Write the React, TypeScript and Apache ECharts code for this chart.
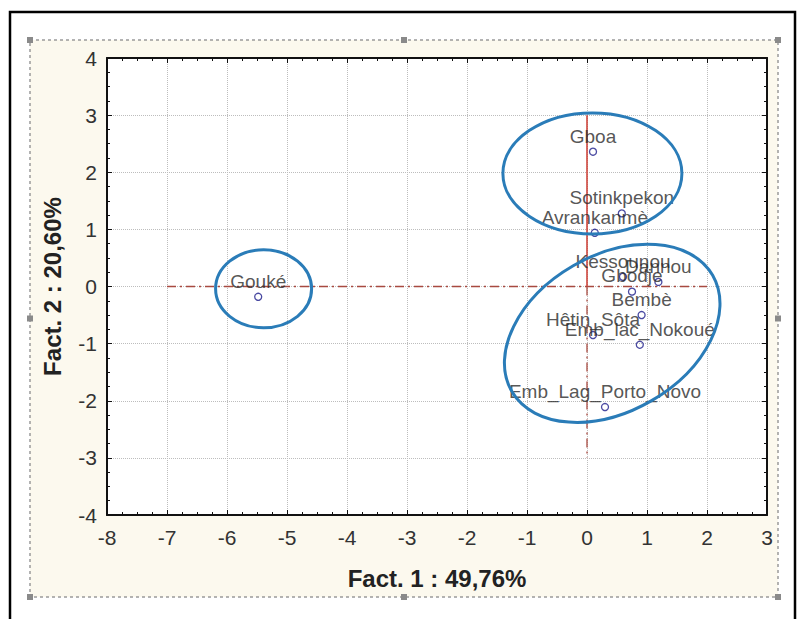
import React, { useEffect, useRef } from "react";
import * as echarts from "echarts";

// ---- data ----
const siteNames = [
  "Gouké",
  "Gboa",
  "Sotinkpekon",
  "Avrankanmè",
  "Kessounou",
  "Dannou",
  "Gbodje",
  "Bembè",
  "Hêtin_Sôta",
  "Emb_lac_Nokoué",
  "Emb_Lag_Porto_Novo",
];
const fact1 = [-5.48, 0.1, 0.58, 0.13, 0.6, 1.19, 0.75, 0.91, 0.1, 0.88, 0.3];
const fact2 = [-0.18, 2.36, 1.28, 0.94, 0.17, 0.08, -0.09, -0.5, -0.85, -1.02, -2.11];

const xTickValues = [-8, -7, -6, -5, -4, -3, -2, -1, 0, 1, 2, 3];
const yTickValues = [-4, -3, -2, -1, 0, 1, 2, 3, 4];

const xTitle = "Fact. 1 : 49,76%";
const yTitle = "Fact. 2 : 20,60%";

// reference lines (data units)
const hLine = [[-7, 0], [2, 0]];
const vLineUpper = [[0, 3], [0, 0]];
const vLineLower = [[0, 0], [0, -3]];

// group ellipse centres (data units)
const groupCentres = [
  [-5.39, -0.04],
  [0.09, 1.98],
  [0.42, -0.82],
];
// ellipse shapes (pixels, rotation in degrees)
const groupShapes = [
  { rx: 48, ry: 39, rot: 0 },
  { rx: 89.5, ry: 60.5, rot: 0 },
  { rx: 116, ry: 78, rot: 30 },
];

const FONT = "'Liberation Sans', Arial, sans-serif";
const PLOT = { left: 107, top: 58, width: 660, height: 457 };

export default function App() {
  const ref = useRef<HTMLDivElement>(null);

  useEffect(() => {
    if (!ref.current) return;
    const chart = echarts.init(ref.current, undefined, { renderer: "svg" });

    const points = siteNames.map((n, i) => ({ name: n, value: [fact1[i], fact2[i]] }));

    const baseAxis = {
      type: "value" as const,
      interval: 1,
      axisLine: { show: true, onZero: false, lineStyle: { color: "#111", width: 2 } },
      axisTick: { show: true, inside: true, length: 5, lineStyle: { color: "#111", width: 1 } },
      minorTick: { show: true, splitNumber: 4, length: 3, lineStyle: { color: "#111" } },
    };

    const panel = { x: 30, y: 40, w: 748, h: 557 };
    const handles: [number, number][] = [
      [panel.x, panel.y],
      [panel.x + panel.w / 2, panel.y],
      [panel.x + panel.w, panel.y],
      [panel.x, panel.y + panel.h / 2],
      [panel.x + panel.w, panel.y + panel.h / 2],
      [panel.x, panel.y + panel.h],
      [panel.x + panel.w / 2, panel.y + panel.h],
      [panel.x + panel.w, panel.y + panel.h],
    ];

    const staticGraphics: any[] = [
      {
        type: "rect",
        z: -20,
        silent: true,
        shape: { x: 10, y: 12, width: 785, height: 640 },
        style: { fill: "#ffffff", stroke: "#000", lineWidth: 2.5 },
      },
      {
        type: "rect",
        z: -10,
        silent: true,
        shape: { x: panel.x, y: panel.y, width: panel.w, height: panel.h },
        style: { fill: "#fcf9ee", stroke: "#9a9a9a", lineWidth: 1.5, lineDash: [3, 3] },
      },
      {
        type: "rect",
        z: -8,
        silent: true,
        shape: { x: PLOT.left, y: PLOT.top, width: PLOT.width, height: PLOT.height },
        style: { fill: "#ffffff" },
      },
      ...handles.map(([hx, hy]) => ({
        type: "rect",
        z: -5,
        silent: true,
        shape: { x: hx - 3, y: hy - 3, width: 6, height: 6 },
        style: { fill: "#8a8a8a" },
      })),
    ];

    chart.setOption({
      animation: false,
      backgroundColor: "#ffffff",
      textStyle: { fontFamily: FONT },
      grid: {
        left: PLOT.left,
        top: PLOT.top,
        width: PLOT.width,
        height: PLOT.height,
        show: false,
      },
      xAxis: [
        {
          ...baseAxis,
          min: xTickValues[0],
          max: xTickValues[xTickValues.length - 1],
          position: "bottom",
          name: xTitle,
          nameLocation: "middle",
          nameGap: 51,
          nameTextStyle: { fontSize: 24, fontWeight: "bold", color: "#222", fontFamily: FONT },
          axisLabel: { fontSize: 21, color: "#333", margin: 12, fontFamily: FONT },
          splitLine: { show: true, lineStyle: { type: "dotted", color: "#bdbdbd", width: 1 } },
        },
        {
          ...baseAxis,
          min: xTickValues[0],
          max: xTickValues[xTickValues.length - 1],
          position: "top",
          axisLabel: { show: false },
          splitLine: { show: false },
        },
      ],
      yAxis: [
        {
          ...baseAxis,
          min: yTickValues[0],
          max: yTickValues[yTickValues.length - 1],
          position: "left",
          name: yTitle,
          nameLocation: "middle",
          nameGap: 43,
          nameRotate: 90,
          nameTextStyle: { fontSize: 24, fontWeight: "bold", color: "#222", fontFamily: FONT },
          axisLabel: { fontSize: 21, color: "#333", margin: 10, fontFamily: FONT },
          splitLine: { show: true, lineStyle: { type: "dotted", color: "#bdbdbd", width: 1 } },
        },
        {
          ...baseAxis,
          min: yTickValues[0],
          max: yTickValues[yTickValues.length - 1],
          position: "right",
          axisLabel: { show: false },
          splitLine: { show: false },
        },
      ],
      series: [
        {
          type: "line",
          data: hLine,
          symbol: "none",
          silent: true,
          z: 2,
          lineStyle: { color: "#a84a40", width: 1.3, type: [9, 4, 2, 4] },
        },
        {
          type: "line",
          data: vLineUpper,
          symbol: "none",
          silent: true,
          z: 2,
          lineStyle: { color: "#cc3a30", width: 1.5, type: "solid" },
        },
        {
          type: "line",
          data: vLineLower,
          symbol: "none",
          silent: true,
          z: 2,
          lineStyle: { color: "#a84a40", width: 1.3, type: [9, 4, 2, 4] },
        },
        {
          type: "scatter",
          data: points,
          symbol: "circle",
          symbolSize: 7,
          z: 5,
          itemStyle: { color: "rgba(255,255,255,0)", borderColor: "#1c1c8a", borderWidth: 1.3 },
          label: {
            show: true,
            position: "top",
            distance: 2,
            formatter: (p: any) => p.name,
            fontSize: 19,
            color: "#2a2a2a",
            fontFamily: FONT,
          },
          labelLayout: { hideOverlap: false },
        },
      ],
      graphic: staticGraphics,
    });

    const ellipses = groupCentres.map((c, i) => {
      const px = chart.convertToPixel({ gridIndex: 0 }, c) as number[];
      const s = groupShapes[i];
      return {
        type: "ellipse",
        z: 50,
        silent: true,
        x: px[0],
        y: px[1],
        rotation: (s.rot * Math.PI) / 180,
        shape: { cx: 0, cy: 0, rx: s.rx, ry: s.ry },
        style: { fill: "none", stroke: "#2a7cb8", lineWidth: 3 },
      };
    });

    chart.setOption({ graphic: [...staticGraphics, ...ellipses] }, { replaceMerge: ["graphic"] });

    return () => chart.dispose();
  }, []);

  return (
    <div
      ref={ref}
      style={{ position: "fixed", left: 0, top: 0, width: 804, height: 619, background: "#fff" }}
    />
  );
}
